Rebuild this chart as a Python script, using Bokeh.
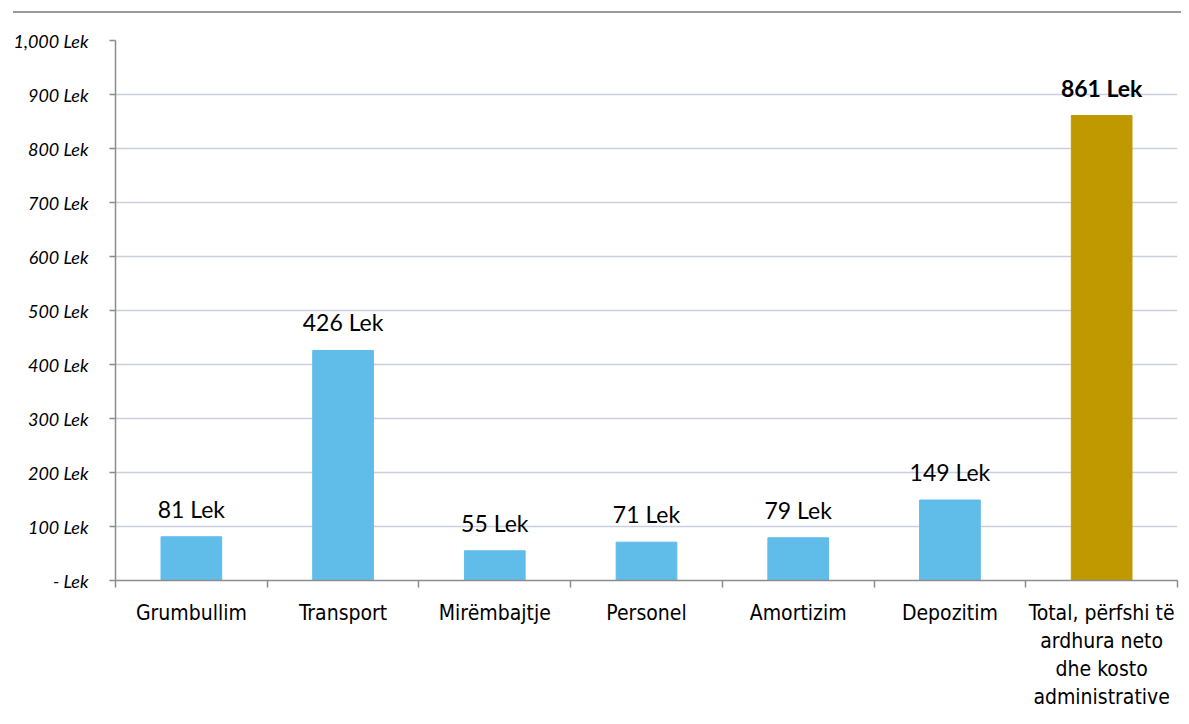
from bokeh.plotting import figure
from bokeh.models import Range1d, FixedTicker, ColumnDataSource, Div
from bokeh.layouts import column
from bokeh.embed import file_html
from bokeh.resources import INLINE
from bokeh.core.properties import value

categories = ["Grumbullim", "Transport", "Mirëmbajtje", "Personel", "Amortizim", "Depozitim",
              "Total, përfshi të\nardhura neto\ndhe kosto\nadministrative"]
values = [81, 426, 55, 71, 79, 149, 861]
bar_colors = ["#60BCE9"] * 6 + ["#C09900"]
label_texts = [f"{v} Lek" for v in values]
y_ticks = [0, 100, 200, 300, 400, 500, 600, 700, 800, 900, 1000]
y_tick_labels = ["- Lek", "100 Lek", "200 Lek", "300 Lek", "400 Lek", "500 Lek",
                 "600 Lek", "700 Lek", "800 Lek", "900 Lek", "1,000 Lek"]

n = len(categories)
centers = [i + 0.5 for i in range(n)]
bounds = [float(i) for i in range(n + 1)]

src = ColumnDataSource(dict(x=centers, top=values, color=bar_colors))

p = figure(x_range=Range1d(0, n), y_range=Range1d(0, 1000),
           frame_width=1062, frame_height=540,
           min_border_left=107, min_border_right=4, min_border_top=27, min_border_bottom=130,
           output_backend="svg", toolbar_location=None, margin=(0, 0, 0, 8))
p.outline_line_color = None
p.background_fill_color = "white"

p.vbar(x="x", top="top", width=0.4, bottom=0, color="color", source=src)

# value labels
normal = ColumnDataSource(dict(x=centers[:6], y=values[:6], t=label_texts[:6]))
bold = ColumnDataSource(dict(x=centers[6:], y=values[6:], t=label_texts[6:]))
p.text(x="x", y="y", text="t", source=normal, text_align="center", text_baseline="alphabetic",
       y_offset=-28, text_font=value("Lato"), text_font_size="23px", text_color="#000000")
p.text(x="x", y="y", text="t", source=bold, text_align="center", text_baseline="alphabetic",
       y_offset=-28, text_font=value("Lato"), text_font_size="23px", text_font_style="bold",
       text_color="#000000")

# x axis
xa = p.xaxis[0]
xa.ticker = FixedTicker(ticks=centers, minor_ticks=bounds)
xa.major_label_overrides = {c: lab for c, lab in zip(centers, categories)}
xa.major_tick_line_color = None
xa.major_tick_out = 0
xa.major_tick_in = 0
xa.minor_tick_line_color = "#8c8c8c"
xa.minor_tick_line_width = 1.5
xa.minor_tick_out = 7
xa.minor_tick_in = 0
xa.axis_line_color = "#8c8c8c"
xa.axis_line_width = 1.5
xa.major_label_standoff = 13
xa.major_label_text_font = "'Liberation Sans Narrow', 'Arial Narrow', 'DejaVu Sans Condensed', sans-serif"
xa.major_label_text_font_size = "21px"
xa.major_label_text_color = "#000000"
xa.major_label_text_line_height = 1.17
xa.major_label_orientation = "horizontal"

# y axis
ya = p.yaxis[0]
ya.ticker = FixedTicker(ticks=y_ticks, minor_ticks=[])
ya.major_label_overrides = {t: lab for t, lab in zip(y_ticks, y_tick_labels)}
ya.axis_line_color = "#8c8c8c"
ya.axis_line_width = 1.5
ya.major_tick_line_color = "#8c8c8c"
ya.major_tick_line_width = 1.5
ya.major_tick_out = 6
ya.major_tick_in = 0
ya.minor_tick_line_color = None
ya.major_label_standoff = 21
ya.major_label_text_font = "Lato"
ya.major_label_text_font_style = "italic"
ya.major_label_text_font_size = "18px"
ya.major_label_text_color = "#000000"

p.xgrid.grid_line_color = None
p.ygrid.grid_line_color = "#CBCEE0"
p.ygrid.grid_line_width = 1.5

top_line = Div(text="", width=1168, height=3, margin=(10, 0, 0, 13),
               styles={"border-bottom": "2px solid #9a9a9a"})

layout = column(top_line, p, spacing=0)

open("out.html", "w").write(file_html(layout, INLINE))
